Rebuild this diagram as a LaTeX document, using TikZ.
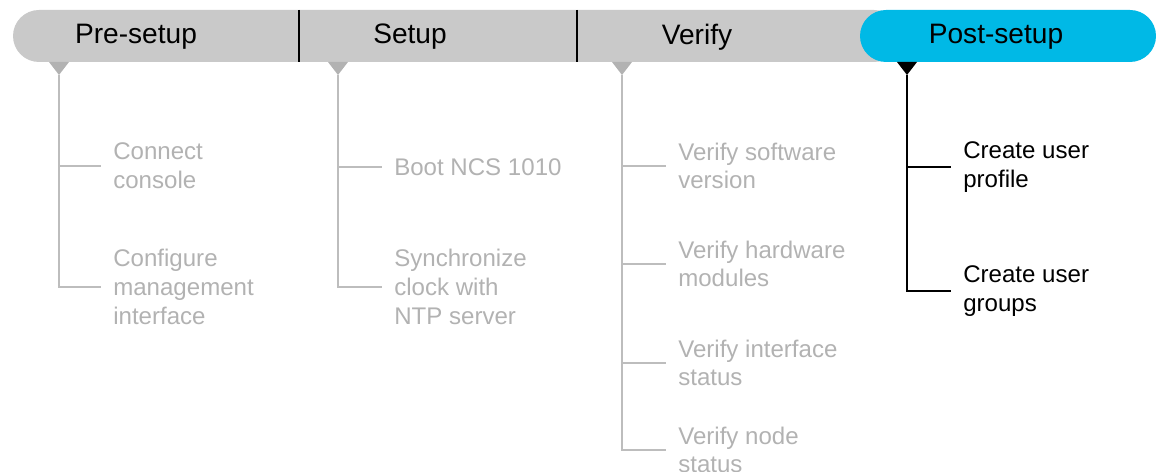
\documentclass[tikz,border=0pt]{standalone}
\usepackage{fontspec}
\setmainfont{Liberation Sans}
\definecolor{barGray}{HTML}{C9C9C9}
\definecolor{postBlue}{HTML}{00B9E6}
\definecolor{stepGray}{HTML}{B2B2B2}
\definecolor{lineGray}{HTML}{BDBDBD}
\tikzset{
  head/.style={font=\fontsize{16}{19}\selectfont, text=black},
  item/.style={anchor=west, align=left, inner xsep=6.8pt, inner ysep=0pt,
    font=\fontsize{13.7}{16.3}\selectfont, text=stepGray},
  doneitem/.style={item, text=black},
  branch/.style={draw=lineGray, line width=0.8pt},
  donebranch/.style={draw=black, line width=0.8pt},
  divider/.style={draw=black, line width=0.8pt}
}
\begin{document}
\begin{tikzpicture}[x=0.02cm, y=-0.02cm]
        \useasboundingbox (0,0) rectangle (1156,472);
        % phase bar
        \fill[barGray, rounded corners=0.52cm] (13,10) rectangle (900,62);
        \fill[postBlue, rounded corners=0.52cm] (860,10) rectangle (1156,62);
        \draw[divider] (299,10) -- (299,62);
        \draw[divider] (577,10) -- (577,62);
        \node[head] (pre) at (136,37) {Pre-setup};
        \node[head] (setup) at (410,37) {Setup};
        \node[head] (verify) at (697,37) {Verify};
        \node[head] (post) at (996,37) {Post-setup};

        % markers under the bar
        \fill[stepGray] (49,62) -- (69,62) -- (59,75) -- cycle;
        \fill[stepGray] (328,62) -- (348,62) -- (338,75) -- cycle;
        \fill[stepGray] (612,62) -- (632,62) -- (622,75) -- cycle;
        \fill[black] (897,62) -- (917,62) -- (907,75) -- cycle;
        \coordinate (preTop) at (59,75);
        \coordinate (setupTop) at (338,75);
        \coordinate (verifyTop) at (622,75);
        \coordinate (postTop) at (907,75);

        % Pre-setup
        \node[item] (conn) at (101,166) {Connect\\console};
        \node[item] (mgmt) at (101,287) {Configure\\management\\interface};
        \draw[branch] (preTop) |- (conn.west);
        \draw[branch] (preTop) |- (mgmt.west);

        % Setup
        \node[item] (boot) at (382,167) {Boot NCS 1010};
        \node[item] (sync) at (382,287) {Synchronize\\clock with\\NTP server};
        \draw[branch] (setupTop) |- (boot.west);
        \draw[branch] (setupTop) |- (sync.west);

        % Verify
        \node[item] (softw) at (666,166) {Verify software\\version};
        \node[item] (hardw) at (666,264) {Verify hardware\\modules};
        \node[item] (intf) at (666,363) {Verify interface\\status};
        \node[item] (nodest) at (666,450) {Verify node\\status};
        \draw[branch] (verifyTop) |- (softw.west);
        \draw[branch] (verifyTop) |- (hardw.west);
        \draw[branch] (verifyTop) |- (intf.west);
        \draw[branch] (verifyTop) |- (nodest.west);

        % Post-setup
        \node[doneitem] (profile) at (951,167) {Create user\\profile};
        \node[doneitem] (groups) at (951,291) {Create user\\groups};
        \draw[donebranch] (postTop) |- (profile.west);
        \draw[donebranch] (postTop) |- (groups.west);
\end{tikzpicture}
\end{document}
